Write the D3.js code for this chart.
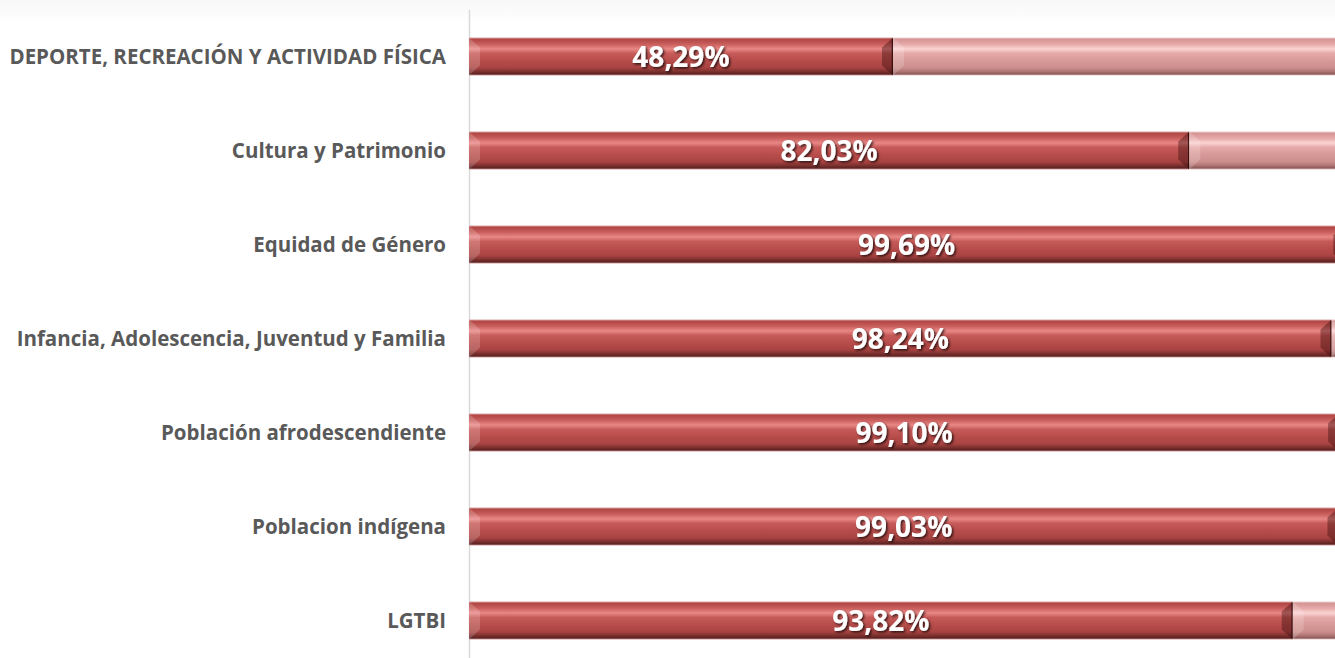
<!DOCTYPE html>
<html>
<head>
<meta charset="utf-8">
<script src="https://cdn.jsdelivr.net/npm/d3@7"></script>
<style>
  body { margin: 0; background: #fff; }
  svg { display: block; }
</style>
</head>
<body>
<div id="chart"></div>
<script>
// categories and executed percentage
var categories = [
    "DEPORTE, RECREACIÓN Y ACTIVIDAD FÍSICA",
    "Cultura y Patrimonio",
    "Equidad de Género",
    "Infancia, Adolescencia, Juventud y Familia",
    "Población afrodescendiente",
    "Poblacion indígena",
    "LGTBI"
];
var executed = [48.29, 82.03, 99.69, 98.24, 99.10, 99.03, 93.82];
var valueLabels = ["48,29%", "82,03%", "99,69%", "98,24%", "99,10%", "99,03%", "93,82%"];

var width = 1335, height = 658;

var svg = d3.select("#chart")
    .append("svg")
    .attr("width", width)
    .attr("height", height);

var defs = svg.append("defs");

// faint band at the top
var topGrad = defs.append("linearGradient").attr("id", "topfade")
    .attr("x1", 0).attr("y1", 0).attr("x2", 0).attr("y2", 1);
topGrad.append("stop").attr("offset", 0).attr("stop-color", "#f7f7f7");
topGrad.append("stop").attr("offset", 1).attr("stop-color", "#ffffff");
svg.append("rect").attr("x", 0).attr("y", 0).attr("width", width).attr("height", 24)
    .attr("fill", "url(#topfade)");

// cylinder-like gradients
function barGradient(id, stops) {
    var g = defs.append("linearGradient").attr("id", id)
        .attr("x1", 0).attr("y1", 0).attr("x2", 0).attr("y2", 1);
    stops.forEach(s => {
        g.append("stop").attr("offset", s[0]).attr("stop-color", s[1]);
    });
}
barGradient("red", [
    [0, "#d9a3a2"], [0.05, "#b24846"], [0.18, "#c9605e"], [0.3, "#e98886"],
    [0.42, "#c65a58"], [0.6, "#b84e4c"], [0.8, "#a84341"], [0.9, "#7a302e"],
    [0.96, "#5d2221"], [1, "#cf9d9c"]
]);
barGradient("pink", [
    [0, "#ead0d0"], [0.05, "#d59594"], [0.18, "#e5aaa9"], [0.3, "#fbd3d2"],
    [0.42, "#e4a9a8"], [0.6, "#d89a99"], [0.8, "#cc8e8d"], [0.9, "#ad7372"],
    [0.96, "#8c5a59"], [1, "#e6c6c6"]
]);

var shadow = defs.append("filter").attr("id", "txtshadow")
    .attr("x", "-20%").attr("y", "-20%").attr("width", "140%").attr("height", "140%");
shadow.append("feDropShadow").attr("dx", 1.5).attr("dy", 1.5)
    .attr("stdDeviation", 1).attr("flood-color", "#000").attr("flood-opacity", 0.75);

// scales
var x = d3.scaleLinear()
    .domain([0, 100])
    .range([469, 1347]);

var y = d3.scaleBand()
    .domain(categories)
    .range([9.5, 667.5])
    .paddingInner(0.596)
    .paddingOuter(0.298);

var data = categories.map((c, i) => ({
    cat: c, value: executed[i], rest: 100 - executed[i], label: valueLabels[i]
}));

// axis line
svg.append("line")
    .attr("x1", 469.5).attr("x2", 469.5)
    .attr("y1", 10).attr("y2", height)
    .attr("stroke", "#d9d9d9").attr("stroke-width", 1.5);

var bev = 11;
function drawSegment(g, x0, x1, y0, h, fill) {
    var y1 = y0 + h;
    g.append("rect").attr("x", x0).attr("y", y0)
        .attr("width", Math.max(0, x1 - x0)).attr("height", h)
        .attr("fill", fill);
    var b = Math.min(bev, (x1 - x0) / 2);
    // left bevel (lighter)
    g.append("polygon")
        .attr("points", [[x0, y0], [x0 + b, y0 + b * 0.9], [x0 + b, y1 - b * 0.9], [x0, y1]].join(" "))
        .attr("fill", "#ffffff").attr("opacity", 0.18);
    // right bevel (darker)
    g.append("polygon")
        .attr("points", [[x1, y0], [x1 - b, y0 + b * 0.9], [x1 - b, y1 - b * 0.9], [x1, y1]].join(" "))
        .attr("fill", "#3a0d0c").attr("opacity", 0.4);
    g.append("line")
        .attr("x1", x1 - 0.5).attr("x2", x1 - 0.5).attr("y1", y0 + 1).attr("y2", y1 - 1)
        .attr("stroke", "#2a0a0a").attr("stroke-width", 1.5).attr("opacity", 0.85);
}

var rows = svg.selectAll("g.row")
    .data(data)
    .enter()
    .append("g")
    .attr("class", "row");

rows.each(function (d) {
    var g = d3.select(this);
    var y0 = y(d.cat), h = y.bandwidth();
    drawSegment(g, x(0), x(d.value), y0, h, "url(#red)");
    drawSegment(g, x(d.value), x(100), y0, h, "url(#pink)");
});

// category labels
rows.append("text")
    .attr("x", 446)
    .attr("y", d => y(d.cat) + y.bandwidth() / 2)
    .attr("dy", "0.35em")
    .attr("text-anchor", "end")
    .style("font-family", "'Open Sans', sans-serif")
    .style("font-weight", "bold")
    .style("font-size", "20.5px")
    .style("fill", "#595959")
    .text(d => d.cat);

// value labels
rows.append("text")
    .attr("x", d => (x(0) + x(d.value)) / 2)
    .attr("y", d => y(d.cat) + y.bandwidth() / 2)
    .attr("dy", "0.37em")
    .attr("text-anchor", "middle")
    .attr("filter", "url(#txtshadow)")
    .style("font-family", "'Open Sans', sans-serif")
    .style("font-weight", "bold")
    .style("font-size", "28px")
    .style("fill", "#ffffff")
    .text(d => d.label);
</script>
</body>
</html>
